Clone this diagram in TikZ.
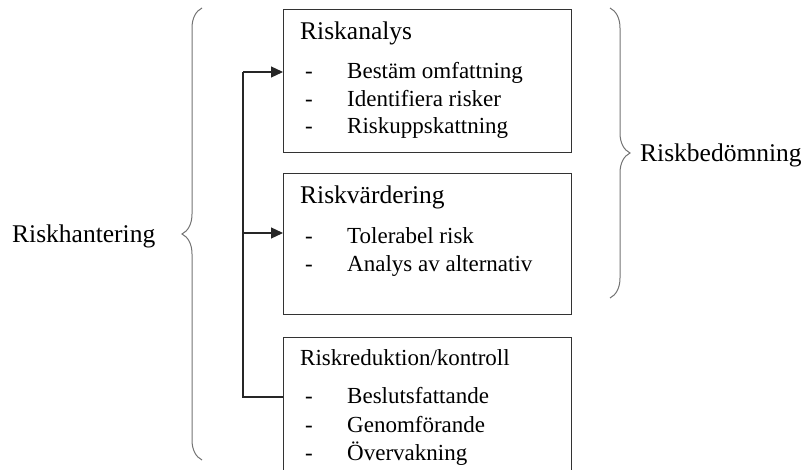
\documentclass[tikz,border=0pt]{standalone}
\usepackage{fontspec}
\setmainfont{Liberation Serif}
\usetikzlibrary{arrows.meta,decorations.pathreplacing}

\begin{document}
\begin{tikzpicture}[x=1pt,y=-1pt,
  box/.style={draw=black!80, line width=1pt, anchor=north west, minimum width=288pt, inner sep=0pt},
  txt/.style={anchor=base west, inner sep=0pt, font=\fontsize{23}{27}\selectfont},
  head/.style={txt, font=\fontsize{25.5}{30}\selectfont},
  brace/.style={draw=black!55, line width=1pt, decorate, decoration={brace, amplitude=20pt}},
  link/.style={draw=black!85, line width=1.2pt},
  tip/.style={-{Triangle[length=12pt,width=11pt]}}]
\useasboundingbox (0,0) rectangle (811,470);
\clip (0,0) rectangle (811,470);

% the three boxes
\node[box, minimum height=143pt] (analys) at (283,9) {};
\node[box, minimum height=141pt] (vardering) at (283,173) {};
\node[box, minimum height=160pt] (reduktion) at (283,337) {};

% titles
\node[head] (analys-t) at (300,40) {Riskanalys};
\node[head] (vardering-t) at (300,204) {Riskvärdering};
\node[txt] (reduktion-t) at (300,365) {Riskreduktion/kontroll};

% list items
\foreach \y/\t [count=\i] in {79/Bestäm omfattning, 107/Identifiera risker, 134/Riskuppskattning}{
	\node[txt] (ad\i) at (305,\y) {-};
	\node[txt] (a\i) at (347,\y) {\t};
}
\foreach \y/\t [count=\i] in {244/Tolerabel risk, 272/Analys av alternativ}{
	\node[txt] (vd\i) at (305,\y) {-};
	\node[txt] (v\i) at (347,\y) {\t};
}
\foreach \y/\t [count=\i] in {403/Beslutsfattande, 432/Genomförande, 460/Övervakning}{
	\node[txt] (rd\i) at (305,\y) {-};
	\node[txt] (r\i) at (347,\y) {\t};
}

% feedback arrows
\coordinate (ra) at (243,397);
\coordinate (ta) at (243,72);
\coordinate (tv) at (243,233);
\draw[link] (reduktion.west |- ra) -- (ra) -- (ta);
\draw[link, tip] (ta) -- (analys.west |- ta);
\draw[link, tip] (tv) -- (vardering.west |- tv);

% braces
\coordinate (lb-top) at (202,8);
\coordinate (lb-bot) at (202,460);
\coordinate (rb-top) at (610,8);
\coordinate (rb-bot) at (610,298);
\draw[brace] (lb-bot) -- (lb-top);
\draw[brace] (rb-top) -- (rb-bot);
\node[head] (hantering) at (12,243) {Riskhantering};
\node[head] (bedomning) at (640,162) {Riskbedömning};
\end{tikzpicture}
\end{document}
